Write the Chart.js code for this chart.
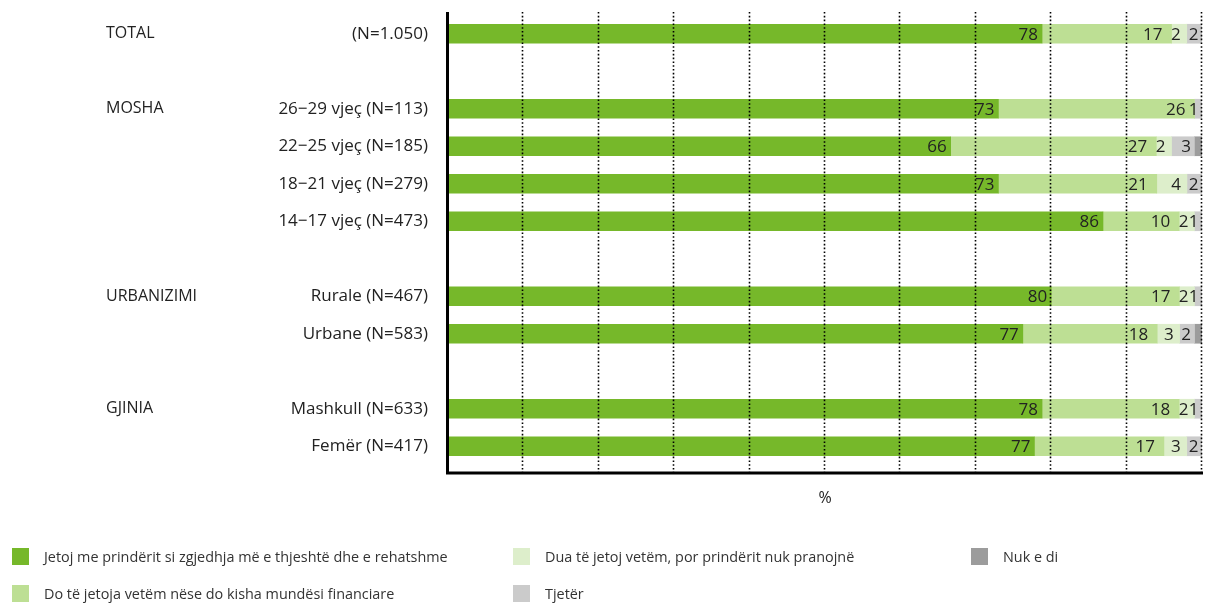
<!DOCTYPE html>
<html>
<head>
<meta charset="utf-8">
<script src="https://cdn.jsdelivr.net/npm/chart.js@4.4.0/dist/chart.umd.min.js"></script>
<style>
html,body{margin:0;padding:0;background:#fff;}
#wrap{position:relative;width:1212px;height:603px;overflow:hidden;}
#c{position:absolute;left:0;top:0;}
.leg{position:absolute;display:flex;align-items:center;white-space:nowrap;font-family:"Open Sans",sans-serif;font-size:14.4px;color:#333;}
.leg .b{display:inline-block;width:17px;height:17px;margin-right:15px;}
</style>
</head>
<body>
<div id="wrap">
<canvas id="c" width="1212" height="603"></canvas>
<div id="legend"></div>
</div>
<script>
// ---- data ----
const rowLabels = ['(N=1.050)', '', '26\u221229 vjeç (N=113)', '22\u221225 vjeç (N=185)', '18\u221221 vjeç (N=279)', '14\u221217 vjeç (N=473)', '', 'Rurale (N=467)', 'Urbane (N=583)', '', 'Mashkull (N=633)', 'Femër (N=417)'];
const groupLabels = ['TOTAL', '', 'MOSHA', '', '', '', '', 'URBANIZIMI', '', '', 'GJINIA', ''];
const seriesNames = ['Jetoj me prindërit si zgjedhja më e thjeshtë dhe e rehatshme', 'Do të jetoja vetëm nëse do kisha mundësi financiare', 'Dua të jetoj vetëm, por prindërit nuk pranojnë', 'Tjetër', 'Nuk e di'];
const seriesColors = ['#76B82A', '#BDDF94', '#DDEECB', '#CBCBCB', '#9C9C9C'];
const jetojMePrinderit = [78, null, 73, 66, 73, 86, null, 80, 77, null, 78, 77];
const doTeJetoja       = [17, null, 26, 27, 21, 10, null, 17, 18, null, 18, 17];
const duaTeJetoj       = [2,  null, 0,  2,  4,  2,  null, 2,  3,  null, 2,  3];
const tjeter           = [2,  null, 1,  3,  2,  1,  null, 1,  2,  null, 1,  2];
const nukEDi           = [0,  null, 0,  1,  0,  0,  null, 0,  1,  null, 0,  0];
const gridTicks = [10, 20, 30, 40, 50, 60, 70, 80, 90, 100];

const series = [jetojMePrinderit, doTeJetoja, duaTeJetoj, tjeter, nukEDi];
const labelledSeries = [true, true, true, true, false];
const labelPad = [4, 9, 6, 3.5, 0];
const FONT = '"Open Sans", sans-serif';

// 100% stacked: each row is shown as share of its row total
const rowTotals = rowLabels.map((_, i) => series.reduce((s, arr) => s + (arr[i] || 0), 0));

const datasets = series.map((arr, k) => ({
  label: seriesNames[k],
  data: arr.map((v, i) => v === null ? null : (rowTotals[i] ? v / rowTotals[i] * 100 : 0)),
  raw: arr,
  backgroundColor: seriesColors[k],
  borderWidth: 0,
  barThickness: 19,
  yAxisID: 'y'
}));

const overlay = {
  id: 'overlay',
  afterDatasetsDraw(chart) {
    const {ctx, chartArea, scales: {x}} = chart;
    const top = chartArea.top - 3;
    const bottom = chartArea.bottom + 8;
    ctx.save();
    // dotted grid lines
    ctx.strokeStyle = '#000';
    ctx.lineWidth = 1.6;
    ctx.setLineDash([1.6, 2.2]);
    gridTicks.forEach(t => {
      const px = Math.round(x.getPixelForValue(t)) - 0.5;
      ctx.beginPath();
      ctx.moveTo(px, top);
      ctx.lineTo(px, bottom);
      ctx.stroke();
    });
    ctx.setLineDash([]);
    // value labels
    ctx.font = '17px ' + FONT;
    ctx.fillStyle = '#222';
    ctx.textAlign = 'right';
    ctx.textBaseline = 'middle';
    chart.data.datasets.forEach((ds, k) => {
      if (!labelledSeries[k]) return;
      const meta = chart.getDatasetMeta(k);
      meta.data.forEach((el, i) => {
        const v = ds.raw[i];
        if (v === null || v <= 0) return;
        ctx.fillText(String(v), el.x - labelPad[k], el.y + 1);
      });
    });
    ctx.restore();
    // axes
    ctx.save();
    ctx.strokeStyle = '#000';
    ctx.lineWidth = 3;
    const x0 = x.getPixelForValue(0) - 0.5;
    ctx.beginPath();
    ctx.moveTo(x0, top);
    ctx.lineTo(x0, bottom);
    ctx.lineTo(x.getPixelForValue(100) + 1, bottom);
    ctx.stroke();
    ctx.restore();
  }
};

const chart = new Chart(document.getElementById('c'), {
  type: 'bar',
  data: { labels: rowLabels, datasets: datasets },
  options: {
    responsive: false,
    animation: false,
    indexAxis: 'y',
    layout: { padding: { left: 106, right: 10, top: 15, bottom: 88 } },
    plugins: { legend: { display: false }, tooltip: { enabled: false } },
    scales: {
      x: {
        stacked: true, min: 0, max: 100,
        grid: { display: false, drawTicks: false },
        border: { display: false },
        ticks: { display: false },
        title: { display: true, text: '%', color: '#222', font: { family: FONT, size: 16 }, padding: { top: 0, bottom: 7 } },
        afterFit: s => { s.height = 50; s.paddingLeft = 0; s.paddingRight = 0; }
      },
      y: {
        stacked: true, position: 'left', weight: 0,
        grid: { display: false, drawTicks: false },
        border: { display: false },
        ticks: { autoSkip: false, padding: 20, crossAlign: 'near', color: '#222', font: { family: FONT, size: 17 } },
        afterFit: s => { s.width = 192; s.paddingTop = 0; s.paddingBottom = 0; }
      },
      y2: {
        type: 'category', labels: groupLabels, position: 'left', weight: 1, display: true,
        grid: { display: false, drawTicks: false },
        border: { display: false },
        ticks: { autoSkip: false, padding: 0, crossAlign: 'far', color: '#222', font: { family: FONT, size: 16 } },
        afterFit: s => { s.width = 150; s.paddingTop = 0; s.paddingBottom = 0; }
      }
    }
  },
  plugins: [overlay]
});

// legend (HTML, 2 rows, column-major like the original)
const legendPos = { colX: [12, 513, 971], rowY: [556, 593] };
const legendEl = document.getElementById('legend');
chart.data.datasets.forEach((ds, k) => {
  const col = Math.floor(k / 2), row = k % 2;
  const item = document.createElement('div');
  item.className = 'leg';
  item.style.left = legendPos.colX[col] + 'px';
  item.style.top = (legendPos.rowY[row] - 10) + 'px';
  item.style.height = '20px';
  const box = document.createElement('span');
  box.className = 'b';
  box.style.background = ds.backgroundColor;
  const txt = document.createElement('span');
  txt.textContent = ds.label;
  item.appendChild(box);
  item.appendChild(txt);
  legendEl.appendChild(item);
});
</script>
</body>
</html>
